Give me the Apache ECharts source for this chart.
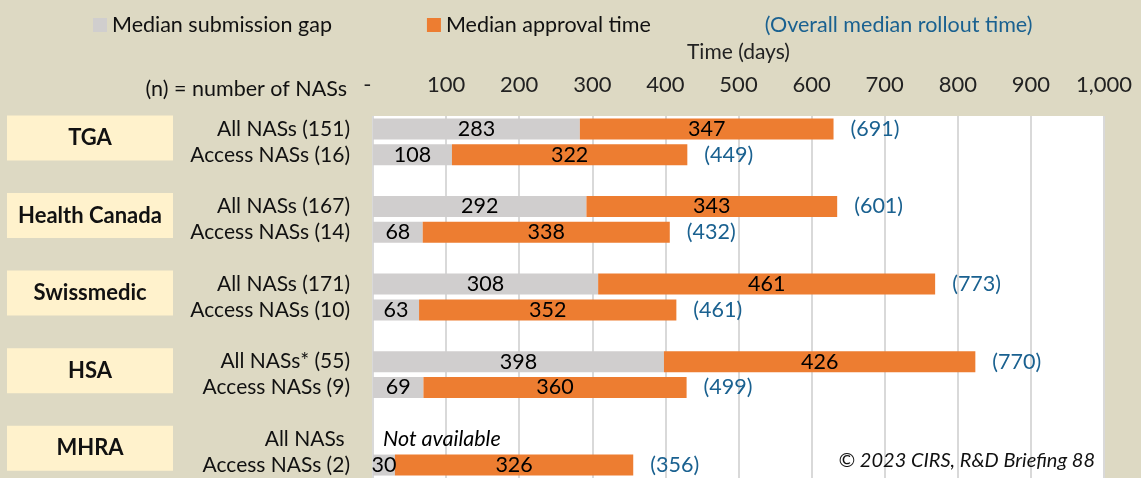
<!DOCTYPE html>
<html>
<head>
<meta charset="utf-8">
<script src="https://cdn.jsdelivr.net/npm/echarts@6/dist/echarts.min.js"></script>
<style>
  html, body { margin: 0; padding: 0; background: #ddd9c3; }
  #chart { width: 1141px; height: 478px; }
</style>
</head>
<body>
<div id="chart"></div>
<script>
// rows, top to bottom (blank rows separate the agencies)
const rowLabels = ['All NASs (151)', 'Access NASs (16)', '', 'All NASs (167)', 'Access NASs (14)', '',
  'All NASs (171)', 'Access NASs (10)', '', 'All NASs* (55)', 'Access NASs (9)', '', 'All NASs ', 'Access NASs (2)']
const agencies = ['TGA', '', '', 'Health Canada', '', '', 'Swissmedic', '', '', 'HSA', '', '', 'MHRA', '']
const submissionGap = [283, 108, null, 292, 68, null, 308, 63, null, 398, 69, null, null, 30]
const approvalTime = [347, 322, null, 343, 338, null, 461, 352, null, 426, 360, null, null, 326]
const rolloutTime = [691, 449, null, 601, 432, null, 773, 461, null, 770, 499, null, null, 356]
const notAvailableRow = 12
const timeTicks = { min: 0, max: 1000, interval: 100 }

const FONT = 'Lato'
const BLUE = '#1a6190'
const GREY = '#d0cece'
const ORANGE = '#ed7d31'

const chart = echarts.init(document.getElementById('chart'))

const gapData = submissionGap.map((v, i) => {
  if (i === notAvailableRow) {
    return {
      value: 0,
      label: { show: true, position: 'right', distance: 10, formatter: 'Not available', fontStyle: 'italic' }
    }
  }
  return v
})
// zero-width bar at the end of each stack carries the overall rollout label
const overallData = rolloutTime.map(v => (v == null ? null : 0))

chart.setOption({
  backgroundColor: '#ddd9c3',
  textStyle: { fontFamily: FONT },
  title: [
    {
      text: '© 2023 CIRS, R&D Briefing 88',
      right: 41, top: 446,
      textStyle: { fontFamily: FONT, fontSize: 20, fontStyle: 'italic', fontWeight: 'normal', color: '#111' }
    },
    {
      text: '(n) = number of NASs',
      right: 789, top: 73,
      textStyle: { fontFamily: FONT, fontSize: 21.5, fontWeight: 'normal', color: '#111' }
    }
  ],
  legend: {
    left: 88, top: 9,
    itemWidth: 14, itemHeight: 14, itemGap: 95,
    icon: 'rect',
    selectedMode: false,
    textStyle: { fontFamily: FONT, fontSize: 21.5, color: '#111' },
    data: [
      { name: 'Median submission gap' },
      { name: 'Median approval time' },
      { name: '(Overall median rollout time)', itemStyle: { opacity: 0 }, textStyle: { color: BLUE } }
    ]
  },
  grid: {
    left: 373, right: 37, top: 116, bottom: 0,
    show: true, backgroundColor: '#ffffff', borderWidth: 0
  },
  xAxis: {
    type: 'value',
    position: 'top',
    min: timeTicks.min, max: timeTicks.max, interval: timeTicks.interval,
    name: 'Time (days)',
    nameLocation: 'middle',
    nameGap: 53,
    nameTextStyle: { fontFamily: FONT, fontSize: 21, color: '#222' },
    axisLine: { show: false },
    axisTick: { show: false },
    axisLabel: {
      margin: 20,
      fontFamily: FONT, fontSize: 22, color: '#222',
      formatter: v => (v === 0 ? '-  ' : v.toLocaleString('en-US'))
    },
    splitLine: { lineStyle: { color: '#d9d9d9', width: 2 } }
  },
  yAxis: [
    {
      type: 'category',
      inverse: true,
      data: rowLabels,
      axisLine: { show: false },
      axisTick: { show: false },
      axisLabel: { interval: 0, margin: 23, fontFamily: FONT, fontSize: 21, color: '#111' }
    },
    {
      type: 'category',
      inverse: true,
      position: 'left',
      data: agencies,
      axisLine: { show: false },
      axisTick: { show: false },
      axisLabel: {
        interval: 0,
        margin: 200,
        padding: [18, 0, 0, 0],
        formatter: v => (v ? '{box|' + v + '}' : ''),
        rich: {
          box: {
            width: 166, height: 45, align: 'center', verticalAlign: 'middle',
            backgroundColor: '#fff2cc',
            fontFamily: FONT, fontSize: 22, fontWeight: 'bold', color: '#111'
          }
        }
      }
    }
  ],
  series: [
    {
      name: 'Median submission gap',
      type: 'bar',
      stack: 'rollout',
      barWidth: 21,
      itemStyle: { color: GREY },
      label: { show: true, position: 'inside', fontFamily: FONT, fontSize: 21.5, color: '#000' },
      data: gapData
    },
    {
      name: 'Median approval time',
      type: 'bar',
      stack: 'rollout',
      barWidth: 21,
      itemStyle: { color: ORANGE },
      label: { show: true, position: 'inside', fontFamily: FONT, fontSize: 21.5, color: '#000' },
      data: approvalTime
    },
    {
      name: '(Overall median rollout time)',
      type: 'bar',
      stack: 'rollout',
      barWidth: 21,
      itemStyle: { color: BLUE },
      label: {
        show: true, position: 'right', distance: 17,
        fontFamily: FONT, fontSize: 21.5, color: BLUE,
        formatter: p => '(' + rolloutTime[p.dataIndex] + ')'
      },
      data: overallData
    }
  ]
})
</script>
</body>
</html>
